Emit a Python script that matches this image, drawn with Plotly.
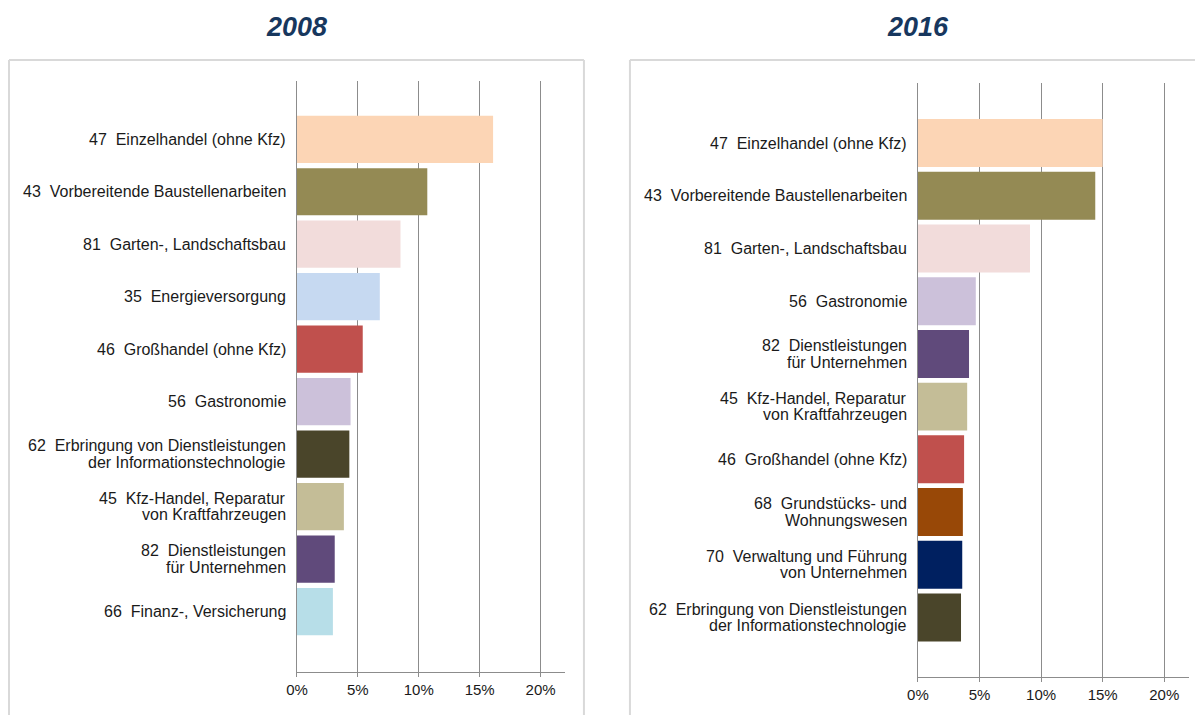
import plotly.graph_objects as go

NB = "\u00a0\u00a0"

cats_2008 = [
    "47" + NB + "Einzelhandel (ohne Kfz)",
    "43" + NB + "Vorbereitende Baustellenarbeiten",
    "81" + NB + "Garten-, Landschaftsbau",
    "35" + NB + "Energieversorgung",
    "46" + NB + "Großhandel (ohne Kfz)",
    "56" + NB + "Gastronomie",
    "62" + NB + "Erbringung von Dienstleistungen<br>der Informationstechnologie",
    "45" + NB + "Kfz-Handel, Reparatur<br>von Kraftfahrzeugen",
    "82" + NB + "Dienstleistungen<br>für Unternehmen",
    "66" + NB + "Finanz-, Versicherung",
]
vals_2008 = [16.1, 10.7, 8.5, 6.8, 5.4, 4.4, 4.3, 3.85, 3.1, 2.95]
colors_2008 = ["#FCD5B5", "#948A54", "#F2DCDB", "#C6D9F1", "#C0504D",
               "#CCC1DA", "#4A452A", "#C4BD97", "#604A7B", "#B7DEE8"]

cats_2016 = [
    "47" + NB + "Einzelhandel (ohne Kfz)",
    "43" + NB + "Vorbereitende Baustellenarbeiten",
    "81" + NB + "Garten-, Landschaftsbau",
    "56" + NB + "Gastronomie",
    "82" + NB + "Dienstleistungen<br>für Unternehmen",
    "45" + NB + "Kfz-Handel, Reparatur<br>von Kraftfahrzeugen",
    "46" + NB + "Großhandel (ohne Kfz)",
    "68" + NB + "Grundstücks- und<br>Wohnungswesen",
    "70" + NB + "Verwaltung und Führung<br>von Unternehmen",
    "62" + NB + "Erbringung von Dienstleistungen<br>der Informationstechnologie",
]
vals_2016 = [15.0, 14.4, 9.1, 4.7, 4.15, 4.0, 3.75, 3.65, 3.6, 3.5]
colors_2016 = ["#FCD5B5", "#948A54", "#F2DCDB", "#CCC1DA", "#604A7B",
               "#C4BD97", "#C0504D", "#984807", "#002060", "#4A452A"]

x_ticks = [0, 5, 10, 15, 20]
x_ticktext = ["0%", "5%", "10%", "15%", "20%"]
titles = ["2008", "2016"]

W, H = 1195, 715
GRID = "#8C8C8C"
FONT = "Liberation Sans, Arial, sans-serif"
TXT = "#1a1a1a"


def X(px):
    # horizontal pixel position -> paper fraction (compensates capture offset)
    return (px - 11.0) / 0.9909 / W


def Y(py):
    return 1 - py / H


fig = go.Figure()
fig.add_trace(go.Bar(x=vals_2008, y=cats_2008, orientation="h",
                     marker=dict(color=colors_2008, line=dict(width=0)),
                     width=0.9, xaxis="x", yaxis="y", showlegend=False,
                     hoverinfo="x"))
fig.add_trace(go.Bar(x=vals_2016, y=cats_2016, orientation="h",
                     marker=dict(color=colors_2016, line=dict(width=0)),
                     width=0.91, xaxis="x2", yaxis="y2", showlegend=False,
                     hoverinfo="x"))


def xax(domain, anchor):
    return dict(domain=domain, anchor=anchor, range=[0, 22], tickvals=x_ticks,
                ticktext=x_ticktext, showgrid=True, gridcolor=GRID, gridwidth=1,
                zeroline=False, showline=True, linecolor=GRID, linewidth=1,
                ticks="outside", ticklen=4, tickcolor=GRID, tickwidth=1,
                tickfont=dict(family=FONT, size=15, color=TXT),
                fixedrange=True)


def yax(domain, anchor, rng):
    return dict(domain=domain, anchor=anchor, type="category", range=rng,
                showgrid=False, zeroline=False, showline=True, linecolor=GRID,
                linewidth=1, ticks="", showticklabels=False,
                fixedrange=True)


fig.update_layout(
    width=W, height=H,
    margin=dict(l=0, r=0, t=0, b=0),
    paper_bgcolor="white", plot_bgcolor="white",
    bargap=0.1,
    xaxis=xax([X(297), X(565)], "y"),
    yaxis=yax([Y(672), Y(81)], "x", [10.15, -1.11]),
    xaxis2=xax([X(918), min(1.0, X(1189))], "y2"),
    yaxis2=yax([Y(677), Y(83)], "x2", [10.13, -1.14]),
)

# category labels (tight line spacing like the original)
LINE = 16.5
for cats, xr, yr in [(cats_2008, "x domain", "y"), (cats_2016, "x2 domain", "y2")]:
    for c in cats:
        lines = c.split("<br>")
        n = len(lines)
        for i, ln in enumerate(lines):
            shift = ((n - 1) / 2 - i) * LINE
            fig.add_annotation(text=ln, xref=xr, yref=yr, x=0, y=c,
                               xanchor="right", yanchor="middle",
                               xshift=-9, yshift=shift, showarrow=False,
                               font=dict(family=FONT, size=16, color=TXT))

# panel frames (open at the bottom / right edge of the picture)
FR = dict(color="#D9D9D9", width=2)
top = Y(60)
for (x0, x1) in [(X(9), X(584)), (X(630), 1.0)]:
    fig.add_shape(type="line", xref="paper", yref="paper",
                  x0=x0, x1=x1, y0=top, y1=top, line=FR, layer="below")
    fig.add_shape(type="line", xref="paper", yref="paper",
                  x0=x0, x1=x0, y0=0, y1=top, line=FR, layer="below")
fig.add_shape(type="line", xref="paper", yref="paper",
              x0=X(584), x1=X(584), y0=0, y1=top, line=FR, layer="below")

for t, xc in zip(titles, [297, 918]):
    fig.add_annotation(text="<b><i>" + t + "</i></b>", xref="paper", yref="paper",
                       x=X(xc), y=Y(27), showarrow=False,
                       xanchor="center", yanchor="middle",
                       font=dict(family=FONT, size=27, color="#17375E"))

fig.write_html("out.html", config={"displayModeBar": False, "staticPlot": True},
               post_script="document.body.style.margin='0';document.body.style.overflow='hidden';")
